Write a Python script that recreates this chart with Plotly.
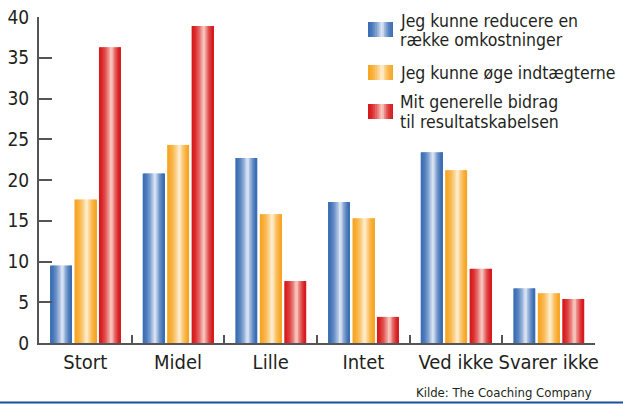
import plotly.graph_objects as go

categories = ["Stort", "Midel", "Lille", "Intet", "Ved ikke", "Svarer ikke"]
series_names = [
    ["Jeg kunne reducere en", "række omkostninger"],
    ["Jeg kunne øge indtægterne"],
    ["Mit generelle bidrag", "til resultatskabelsen"],
]
reducere = [9.5, 20.8, 22.7, 17.3, 23.4, 6.7]
indtaegter = [17.6, 24.3, 15.8, 15.3, 21.2, 6.1]
bidrag = [36.3, 38.9, 7.6, 3.2, 9.1, 5.4]
series_values = [reducere, indtaegter, bidrag]
y_ticks = [0, 5, 10, 15, 20, 25, 30, 35, 40]
source_text = "Kilde: The Coaching Company"

edge_colors = [(58, 109, 180), (247, 166, 35), (215, 25, 28)]
center_colors = [(232, 238, 249), (255, 243, 220), (251, 214, 206)]

FONT = "Liberation Sans Narrow, DejaVu Sans Condensed, Arial Narrow, Liberation Sans, sans-serif"
W, H = 623, 404
L, R, T, B = 39, 28, 17, 61
PW, PH = W - L - R, H - T - B


def px2x(px):
    return (px - L) / PW


def px2y(py):
    return (H - B - py) / PH


def grad(edge, center, t):
    peak = 0.56
    d = abs(t - peak) / (peak if t < peak else 1 - peak)
    b = max(0.0, 1 - d) ** 1.8
    c = [round(e + (cc - e) * b) for e, cc in zip(edge, center)]
    return "rgb(%d,%d,%d)" % tuple(c)


N = 16
bar_w = 0.237
offsets = [-0.381, -0.117, 0.147]
sw = bar_w / N

fig = go.Figure()
for s, vals in enumerate(series_values):
    for k in range(N):
        t = (k + 0.5) / N
        wk = sw * 1.6 if k < N - 1 else sw
        fig.add_trace(go.Bar(
            x=categories, y=vals,
            width=wk, offset=offsets[s] + k * sw,
            marker=dict(color=grad(edge_colors[s], center_colors[s], t), line=dict(width=0)),
            showlegend=False, hoverinfo="skip",
        ))

shapes = []
annotations = []
# custom legend swatches with gradient
sw_tops = [22, 65, 104]
legend_lines_y = [[20.5, 39.5], [72.5], [102, 121.5]]
M = 14
for s in range(3):
    x0, x1 = 368, 393
    for k in range(M):
        t = (k + 0.5) / M
        a = x0 + (x1 - x0) * k / M
        b = x0 + (x1 - x0) * (k + 1.3) / M if k < M - 1 else x1
        shapes.append(dict(type="rect", xref="paper", yref="paper",
                           x0=px2x(a), x1=px2x(b),
                           y0=px2y(sw_tops[s] + 15), y1=px2y(sw_tops[s]),
                           fillcolor=grad(edge_colors[s], center_colors[s], t),
                           line=dict(width=0), layer="above"))
    for line, ly in zip(series_names[s], legend_lines_y[s]):
        annotations.append(dict(text=line, xref="paper", yref="paper",
                                x=px2x(398), y=px2y(ly), xanchor="left", yanchor="middle",
                                showarrow=False, font=dict(family=FONT, size=17.5, color="#231f20")))

annotations.append(dict(text=source_text, xref="paper", yref="paper",
                        x=px2x(594), y=px2y(392), xanchor="right", yanchor="middle",
                        showarrow=False, font=dict(family=FONT, size=13, color="#231f20")))

shapes.append(dict(type="line", xref="paper", yref="paper",
                   x0=px2x(0), x1=px2x(W), y0=px2y(402.5), y1=px2y(402.5),
                   line=dict(color="#1c4fa0", width=2)))

fig.update_layout(
    width=W, height=H,
    margin=dict(l=L, r=R, t=T, b=B, pad=0, autoexpand=False),
    paper_bgcolor="white", plot_bgcolor="white",
    barmode="overlay",
    showlegend=False,
    shapes=shapes, annotations=annotations,
    font=dict(family=FONT, color="#231f20"),
    xaxis=dict(type="category", range=[-0.5, 5.5], showgrid=False, automargin=False, tickangle=0,
               showline=True, linecolor="#555555", linewidth=2,
               ticks="inside", tickson="boundaries", ticklen=8, tickwidth=2, tickcolor="#555555",
               tickfont=dict(family=FONT, size=20, color="#231f20"), zeroline=False),
    yaxis=dict(range=[0, 40], tickvals=y_ticks, showgrid=False, automargin=False,
               showline=True, linecolor="#555555", linewidth=2,
               ticks="inside", ticklen=13, tickwidth=2, tickcolor="#555555",
               ticklabelstandoff=4,
               tickfont=dict(family=FONT, size=19, color="#231f20"), zeroline=False),
)

fig.write_html("out.html", config={"displayModeBar": False},
               post_script="document.body.style.margin='0';document.body.style.overflow='hidden';")
